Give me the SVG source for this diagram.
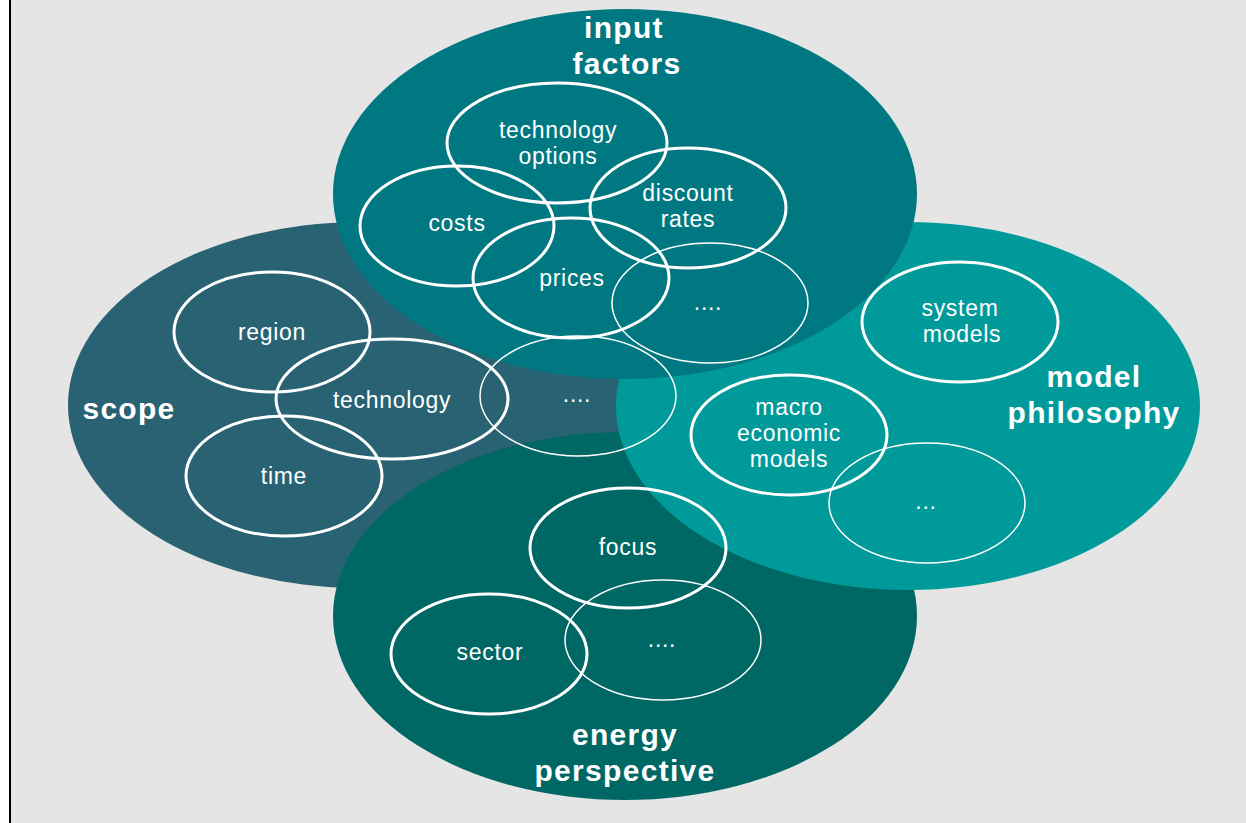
<svg xmlns="http://www.w3.org/2000/svg" width="1246" height="823" viewBox="0 0 1246 823">
<style>
.sub{fill:none;stroke:#ffffff;stroke-width:3}
.thin{fill:none;stroke:#ffffff;stroke-width:1.5}
.t{fill:#ffffff;font-family:"Liberation Sans",Arial,sans-serif;font-size:23px;text-anchor:middle;letter-spacing:0.7px}
.big{fill:#ffffff;font-family:"Liberation Sans",Arial,sans-serif;font-size:30px;font-weight:bold;text-anchor:middle;letter-spacing:1.3px}
</style>
<rect x="0" y="0" width="1246" height="823" fill="#ffffff"/>
<rect x="11" y="0" width="1235" height="823" fill="#e5e5e5"/>
<rect x="9" y="0" width="2" height="823" fill="#000000"/>

<g id="scope">
<ellipse cx="360" cy="405" rx="292" ry="183" fill="#296273"/>
</g>
<g id="energy-perspective">
<ellipse cx="625" cy="616" rx="292" ry="184" fill="#006864"/>
</g>
<g id="model-philosophy">
<ellipse cx="908" cy="406" rx="292" ry="184" fill="#009a9a"/>
</g>
<g id="input-factors">
<ellipse cx="625" cy="194" rx="292" ry="185" fill="#007882"/>
</g>

<g id="scope-items">
<g id="region"><ellipse class="sub" cx="272" cy="332" rx="98" ry="60"/><text class="t" x="272" y="340">region</text></g>
<g id="technology"><ellipse class="sub" cx="392" cy="399" rx="116" ry="60"/><text class="t" x="392" y="408">technology</text></g>
<g id="time"><ellipse class="sub" cx="284" cy="476" rx="98" ry="60"/><text class="t" x="284" y="484">time</text></g>
<g id="scope-more"><ellipse class="thin" cx="578" cy="396" rx="98" ry="60"/><text class="t" x="577" y="402">....</text></g>
<g id="scope-label"><text class="big" x="129" y="419">scope</text></g>
</g>

<g id="input-items">
<g id="technology-options"><ellipse class="sub" cx="557" cy="143" rx="110" ry="60"/><text class="t" x="558" y="138">technology</text><text class="t" x="558" y="164">options</text></g>
<g id="costs"><ellipse class="sub" cx="457" cy="226" rx="97" ry="60"/><text class="t" x="457" y="231">costs</text></g>
<g id="discount-rates"><ellipse class="sub" cx="688" cy="208" rx="98" ry="60"/><text class="t" x="688" y="201">discount</text><text class="t" x="688" y="227">rates</text></g>
<g id="prices"><ellipse class="sub" cx="571" cy="278" rx="98" ry="60"/><text class="t" x="572" y="286">prices</text></g>
<g id="input-more"><ellipse class="thin" cx="710" cy="303" rx="98" ry="60"/><text class="t" x="708" y="310">....</text></g>
<g id="input-label"><text class="big" x="624" y="38">input</text><text class="big" x="627" y="74">factors</text></g>
</g>

<g id="mp-items">
<g id="system-models"><ellipse class="sub" cx="960" cy="322" rx="98" ry="60"/><text class="t" x="960" y="316">system</text><text class="t" x="962" y="342">models</text></g>
<g id="macro-models"><ellipse class="sub" cx="789" cy="435" rx="98" ry="60"/><text class="t" x="789" y="415">macro</text><text class="t" x="789" y="441">economic</text><text class="t" x="789" y="467">models</text></g>
<g id="mp-more"><ellipse class="thin" cx="927" cy="503" rx="98" ry="60"/><text class="t" x="926" y="509">...</text></g>
<g id="mp-label"><text class="big" x="1094" y="387">model</text><text class="big" x="1094" y="423">philosophy</text></g>
</g>

<g id="ep-items">
<g id="focus"><ellipse class="sub" cx="628" cy="548" rx="98" ry="60"/><text class="t" x="628" y="555">focus</text></g>
<g id="sector"><ellipse class="sub" cx="489" cy="654" rx="98" ry="60"/><text class="t" x="490" y="660">sector</text></g>
<g id="ep-more"><ellipse class="thin" cx="663" cy="640" rx="98" ry="60"/><text class="t" x="662" y="647">....</text></g>
<g id="ep-label"><text class="big" x="625" y="745">energy</text><text class="big" x="625" y="781">perspective</text></g>
</g>

<g id="connectors"></g>
</svg>
